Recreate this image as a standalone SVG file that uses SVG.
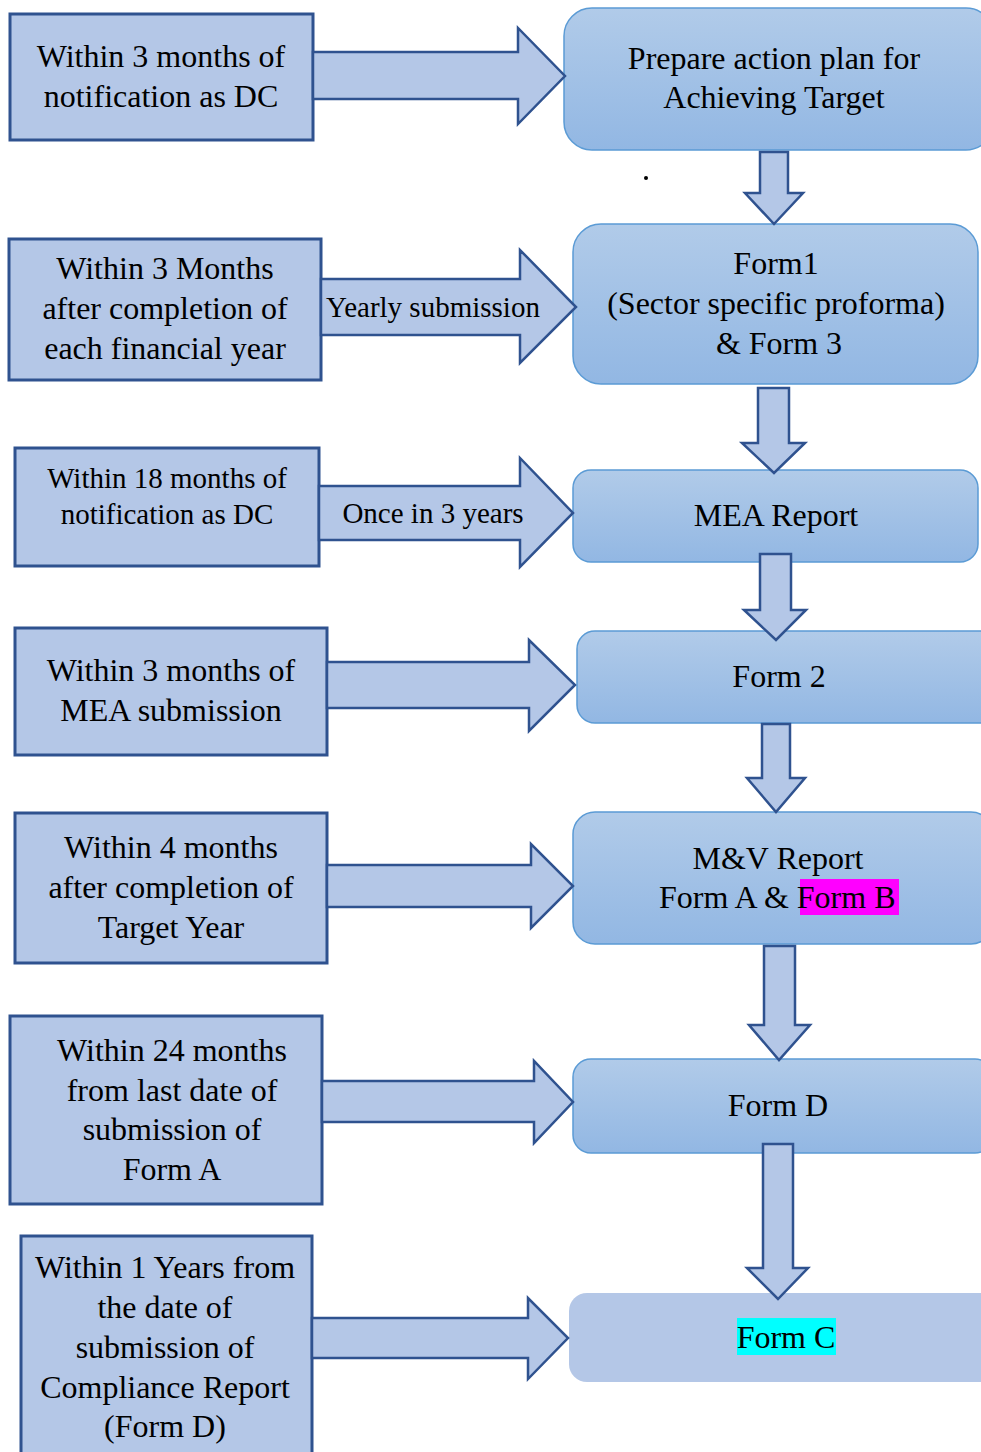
<svg xmlns="http://www.w3.org/2000/svg" width="981" height="1452" viewBox="0 0 981 1452">
<defs>
<linearGradient id="g" x1="0" y1="0" x2="0" y2="1">
<stop offset="0" stop-color="#b1cbe9"/>
<stop offset="1" stop-color="#92b7e3"/>
</linearGradient>
</defs>
<style>
.lb{fill:#b4c7e7;stroke:#2f528f;stroke-width:3}
.rb{fill:url(#g);stroke:#5b9bd5;stroke-width:1.5}
.ar{fill:#b4c7e7;stroke:#2f528f;stroke-width:2.5;stroke-linejoin:miter}
text{font-family:"Liberation Serif","Times New Roman",serif;font-size:32px;fill:#000;text-anchor:middle}
.s{font-size:29px}
</style>
<rect width="981" height="1452" fill="#fff"/>
<g id="l1"><rect class="lb" x="10" y="14" width="303" height="126"/><text x="161" y="67">Within 3 months of</text><text x="161" y="107">notification as DC</text></g>
<g id="l2"><rect class="lb" x="9" y="239" width="312" height="141"/><text x="165" y="279">Within 3 Months</text><text x="165" y="319">after completion of</text><text x="165" y="359">each financial year</text></g>
<g id="l3"><rect class="lb" x="15" y="448" width="304" height="118"/><text class="s" x="167" y="488">Within 18 months of</text><text class="s" x="167" y="524">notification as DC</text></g>
<g id="l4"><rect class="lb" x="15" y="628" width="312" height="127"/><text x="171" y="681">Within 3 months of</text><text x="171" y="721">MEA submission</text></g>
<g id="l5"><rect class="lb" x="15" y="813" width="312" height="150"/><text x="171" y="858">Within 4 months</text><text x="171" y="898">after completion of</text><text x="171" y="938">Target Year</text></g>
<g id="l6"><rect class="lb" x="10" y="1016" width="312" height="188"/><text x="172" y="1061">Within 24 months</text><text x="172" y="1101">from last date of</text><text x="172" y="1140">submission of</text><text x="172" y="1180">Form A</text></g>
<g id="l7"><rect class="lb" x="21" y="1236" width="291" height="230"/><text x="165" y="1278">Within 1 Years from</text><text x="165" y="1318">the date of</text><text x="165" y="1358">submission of</text><text x="165" y="1398">Compliance Report</text><text x="165" y="1437">(Form D)</text></g>
<g id="r1"><rect class="rb" x="564" y="8" width="430" height="142" rx="28"/><text x="774" y="69">Prepare action plan for</text><text x="774" y="108">Achieving Target</text></g>
<g id="r2"><rect class="rb" x="573" y="224" width="405" height="160" rx="28"/><text x="776" y="274">Form1</text><text x="776" y="314">(Sector specific proforma)</text><text x="779" y="354">&amp; Form 3</text></g>
<g id="r3"><rect class="rb" x="573" y="470" width="405" height="92" rx="18"/><text x="776" y="526">MEA Report</text></g>
<g id="r4"><rect class="rb" x="577" y="631" width="420" height="92" rx="18"/><text x="779" y="687">Form 2</text></g>
<g id="r5"><rect class="rb" x="573" y="812" width="420" height="132" rx="22"/><text x="778" y="869">M&amp;V Report</text><rect x="800" y="879" width="99" height="36" fill="#ff00ff"/><text x="659" y="908" style="text-anchor:start">Form A &amp; Form B</text></g>
<g id="r6"><rect class="rb" x="573" y="1059" width="420" height="94" rx="18"/><text x="778" y="1116">Form D</text></g>
<g id="r7"><rect x="569" y="1293" width="430" height="89" rx="18" fill="#b4c7e7"/><rect x="737" y="1318" width="99" height="37" fill="#00ffff"/><text x="786" y="1348">Form C</text></g>
<g id="connectors">
<path class="ar" d="M313,52 H518 V28 L565,76 L518,124 V99 H313 Z"/>
<path class="ar" d="M321,279 H520 V250 L576,307 L520,363 V335 H321 Z"/>
<path class="ar" d="M319,486 H520 V458 L573,513 L520,567 V540 H319 Z"/>
<path class="ar" d="M327,662 H529 V640 L575,685 L529,731 V708 H327 Z"/>
<path class="ar" d="M327,865 H531 V844 L573,886 L531,928 V907 H327 Z"/>
<path class="ar" d="M322,1081 H534 V1061 L573,1102 L534,1143 V1122 H322 Z"/>
<path class="ar" d="M312,1318 H528 V1298 L568,1338 L528,1379 V1358 H312 Z"/>
<path class="ar" d="M760,152 H788 V193 H803 L774,224 L745,193 H760 Z"/>
<path class="ar" d="M758,388 H789 V443 H805 L774,473 L742,443 H758 Z"/>
<path class="ar" d="M760,554 H791 V610 H806 L776,640 L744,610 H760 Z"/>
<path class="ar" d="M762,724 H790 V778 H805 L776,812 L747,778 H762 Z"/>
<path class="ar" d="M764,946 H795 V1025 H810 L779,1060 L749,1025 H764 Z"/>
<path class="ar" d="M763,1144 H793 V1268 H808 L778,1299 L747,1268 H763 Z"/>
</g>
<g id="labels"><text class="s" x="433" y="317">Yearly submission</text><text class="s" x="433" y="523">Once in 3 years</text></g>
<circle cx="646" cy="178" r="2" fill="#000"/>
</svg>
